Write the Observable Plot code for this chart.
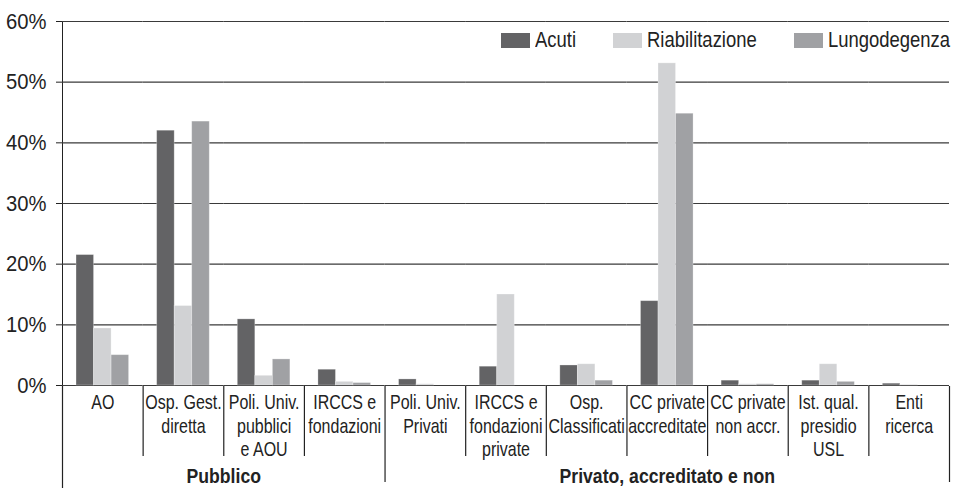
<!DOCTYPE html>
<html>
<head>
<meta charset="utf-8">
<script src="https://cdn.jsdelivr.net/npm/d3@7"></script>
<script src="https://cdn.jsdelivr.net/npm/@observablehq/plot@0.6"></script>
<style>
  body { margin: 0; background: #fff; }
  #wrap { position: relative; width: 956px; height: 488px; font-family: "Liberation Sans", Arial, sans-serif; color: #222; background: #fff; }
  #wrap svg { display: block; }
  #legend { position: absolute; top: 27px; right: 6px; display: flex; align-items: center; font-size: 22.5px; white-space: nowrap; }
  #legend .item { display: flex; align-items: center; margin-left: 37px; }
  #legend .sw { width: 29px; height: 15px; margin-right: 5px; flex: none; }
  #legend .lbl { display: inline-block; transform: scaleX(0.82); transform-origin: left center; }
</style>
</head>
<body>
<div id="wrap"><div id="legend"></div></div>
<script>
// ---- data ----
const categories = [
  "AO",
  "Osp. Gest.\ndiretta",
  "Poli. Univ.\npubblici\ne AOU",
  "IRCCS e\nfondazioni",
  "Poli. Univ.\nPrivati",
  "IRCCS e\nfondazioni\nprivate",
  "Osp.\nClassificati",
  "CC private\naccreditate",
  "CC private\nnon accr.",
  "Ist. qual.\npresidio\nUSL",
  "Enti\nricerca"
];
const series = ["Acuti", "Riabilitazione", "Lungodegenza"];
const acuti = [21.5, 42.0, 10.9, 2.6, 1.0, 3.1, 3.3, 13.9, 0.8, 0.8, 0.3];
const riabilitazione = [9.4, 13.1, 1.6, 0.6, 0.2, 15.0, 3.5, 53.1, 0.2, 3.5, 0.1];
const lungodegenza = [5.0, 43.5, 4.3, 0.4, 0.0, 0.0, 0.8, 44.8, 0.2, 0.6, 0.0];
const groupNames = ["Pubblico", "Privato, accreditato e non"];
const groupSizes = [4, 7];
const yTicks = [0, 10, 20, 30, 40, 50, 60];
const colors = ["#636365", "#d1d2d4", "#a0a1a4"];

// ---- table for Plot ----
const valuesBySeries = [acuti, riabilitazione, lungodegenza];
const rows = [];
categories.forEach((c, i) => series.forEach((s, j) => rows.push({category: c, series: s, value: valuesBySeries[j][i]})));

const font = '"Liberation Sans", Arial, sans-serif';
const ink = "#222";
const gridInk = "#3a3a3a";

// condense text horizontally (reference uses a condensed face)
function condense(svg, k, selector = "text") {
  svg.querySelectorAll(selector).forEach(t => {
    const tr = t.getAttribute("transform") || "";
    t.setAttribute("transform", (tr + ` scale(${k},1)`).trim());
  });
}

// ---- main chart ----
const chart = Plot.plot({
  width: 956,
  height: 386,
  marginTop: 21,
  marginBottom: 1,
  marginLeft: 62,
  marginRight: 7,
  style: {fontFamily: font, fontSize: "22px", color: ink, background: "transparent", overflow: "visible"},
  facet: {data: rows, x: "category"},
  fx: {domain: categories, padding: 0, round: false, axis: null},
  x: {domain: series, paddingInner: 0, paddingOuter: 0.8, round: false, axis: null},
  y: {domain: [0, 60], ticks: yTicks, tickFormat: d => d + "%", tickSize: 6, tickPadding: 10, line: true, label: null},
  color: {domain: series, range: colors},
  marks: [
    Plot.ruleY(yTicks, {stroke: gridInk, strokeWidth: 1.2}),
    Plot.barY(rows, {x: "series", y: "value", fill: "series", stroke: "#ffffff", strokeOpacity: 0.35, strokeWidth: 0.8})
  ]
});
condense(chart, 0.92);

// ---- category / group label table below the axis ----
const bounds = d3.range(categories.length + 1);
const groupBounds = [0, ...d3.cumsum(groupSizes)];
const groups = groupNames.map((g, i) => ({name: g, mid: (groupBounds[i] + groupBounds[i + 1]) / 2}));
const catRuleDepth = 70, groupRuleDepth = 96, tableDepth = 102;

const table = Plot.plot({
  width: 956,
  height: tableDepth,
  marginTop: 0,
  marginBottom: 0,
  marginLeft: 62,
  marginRight: 7,
  style: {fontFamily: font, fontSize: "20.5px", color: ink, background: "transparent", overflow: "visible"},
  x: {domain: [0, categories.length], axis: null},
  y: {domain: [0, tableDepth], reverse: true, axis: null},
  marks: [
    Plot.ruleX(bounds.filter(b => !groupBounds.includes(b)), {x: d => d, y1: 0, y2: catRuleDepth, stroke: ink, strokeWidth: 1.2}),
    Plot.ruleX(groupBounds.slice(1), {x: d => d, y1: 0, y2: groupRuleDepth, stroke: ink, strokeWidth: 1.2}),
    Plot.ruleX([0], {x: d => d, y1: 0, y2: tableDepth, stroke: ink, strokeWidth: 1.2}),
    Plot.text(categories, {x: (d, i) => i + 0.5, y: 6, text: d => d, lineAnchor: "top", lineHeight: 1.15, fill: ink, fontSize: 20.5, className: "cat"}),
    Plot.text(groups, {x: "mid", y: 90, text: "name", fill: ink, fontWeight: "bold", fontSize: 20.5, className: "grp"})
  ]
});
condense(table, 0.78, ".cat text");
condense(table, 0.86, ".grp text");

const wrap = document.getElementById("wrap");
wrap.insertBefore(table, wrap.firstChild);
wrap.insertBefore(chart, table);
chart.style.position = "relative";
chart.style.zIndex = "1";

// ---- legend ----
const legend = document.getElementById("legend");
legend.style.zIndex = "2";
series.forEach((s, i) => {
  const item = document.createElement("div");
  item.className = "item";
  if (i === 0) item.style.marginLeft = "0";
  const sw = document.createElement("span");
  sw.className = "sw";
  sw.style.background = colors[i];
  const t = document.createElement("span");
  t.className = "lbl";
  t.textContent = s;
  item.appendChild(sw);
  item.appendChild(t);
  legend.appendChild(item);
});
legend.querySelectorAll(".lbl").forEach(t => {
  const w = t.getBoundingClientRect().width / 0.82;
  t.style.marginRight = (-(w * 0.18)).toFixed(1) + "px";
});
</script>
</body>
</html>
